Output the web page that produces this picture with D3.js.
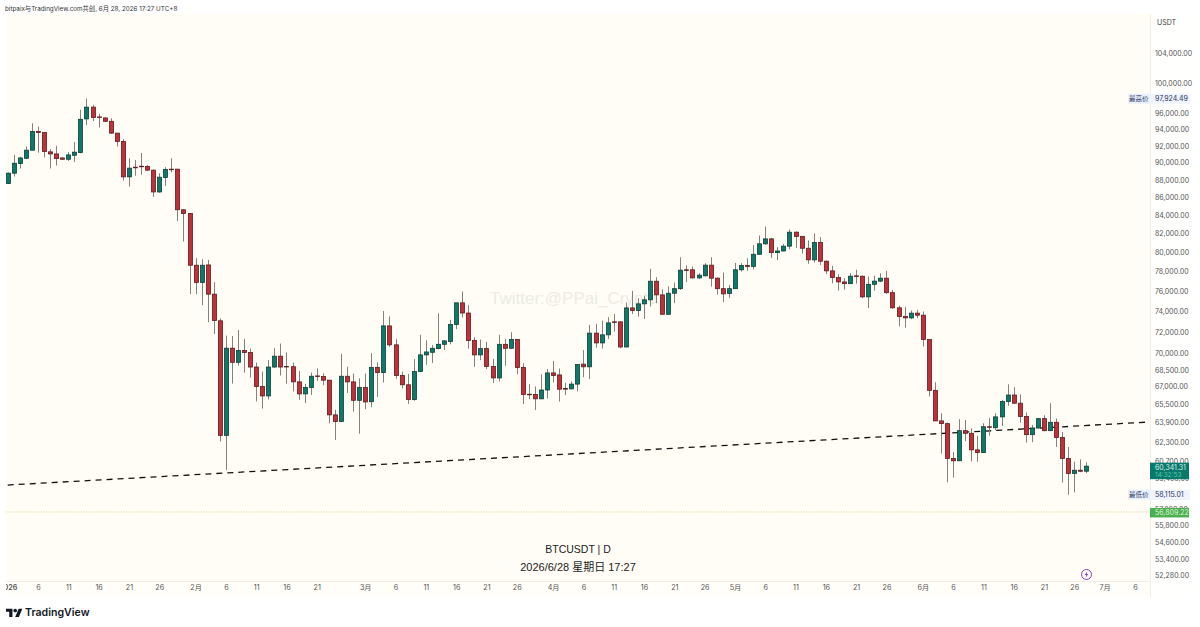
<!DOCTYPE html>
<html>
<head>
<meta charset="utf-8">
<script src="https://cdnjs.cloudflare.com/ajax/libs/d3/7.8.5/d3.min.js"></script>
<style>
  html, body { margin: 0; padding: 0; background: #fff; }
  svg { display: block; }
  text { font-family: Inter, Roboto, "Noto Sans CJK SC", sans-serif; }
</style>
</head>
<body>
<div id="chart"></div>
<script>
// BTCUSDT daily candles, 1 Jan to 28 Jun 2026
const firstDay = Date.UTC(2026, 0, 1);

const opens = [
  87560,88770,89900,90530,91500,93780,93660,91300,91050,90570,
  90410,90890,91210,95350,96840,95600,95470,95050,93580,92560,
  88340,89470,89590,89550,89120,86600,88270,89240,89240,84590,
  84180,78630,76860,78660,75690,73080,62840,70490,69190,70270,
  70090,68760,67020,66190,68760,69750,68820,68790,67430,66370,
  66930,67960,67900,67580,64560,64000,67930,67430,65810,66930,
  65690,68730,68260,72590,70800,68000,67170,65880,68350,69870,
  70110,70450,70850,71110,72720,74830,73830,71200,69870,70450,
  68810,67780,70850,70480,71300,68720,66340,66320,65940,66710,
  68230,68050,66840,66810,67230,69020,68780,71900,70980,71740,
  72980,72980,70600,74330,74070,74730,75130,76990,75620,73710,
  75780,76240,78160,78160,77330,77540,78640,77300,76240,75750,
  76240,78160,78600,78500,79770,80880,81410,79950,80120,80630,
  82130,81670,80410,79190,81020,79050,78050,77370,76920,76750,
  77540,77500,75420,76680,77000,77300,75840,74340,73490,73360,
  73820,73620,71300,66680,64050,63820,60960,60770,63230,63010,
  61650,61430,63560,63480,64390,65700,66270,65560,64420,62900,
  63450,64240,63230,63930,62660,60960,59770,60020,59940
];
const highs = [
  88850,90930,90720,91950,94800,94390,93700,91620,92030,90640,
  91260,92480,96500,97924.49,97140,95990,95560,95430,93580,92840,
  90530,90330,91170,89750,89240,88770,89470,90530,89280,84660,
  84220,79370,79260,79190,76900,73300,71670,71630,72200,71360,
  70460,69160,68350,69410,70490,70920,70090,69160,68410,67250,
  68260,68640,68200,67610,64990,69970,68790,68170,67750,68170,
  70030,69190,74020,73500,71330,68350,68140,69480,71740,71230,
  70790,73800,71260,73170,74830,75950,74600,71520,71300,71070,
  69510,71740,71330,71990,71330,69110,67230,67020,68110,68570,
  69320,68630,67350,67470,68990,70310,72690,72790,73100,73420,
  73740,73010,74860,76020,75290,75520,78260,77400,76180,76470,
  76850,79460,78600,78500,77810,78840,79460,77400,77880,76610,
  78870,78840,79360,80730,81770,82740,81520,80520,80880,82420,
  82210,81740,81240,81990,81600,79120,78570,77710,77300,77810,
  78160,77570,77470,77540,77810,78050,76110,74530,74440,74080,
  74140,73980,71330,67400,64700,63900,61480,64190,64130,63420,
  62800,63850,64300,64700,65840,67220,66950,66330,64760,63700,
  64300,64530,65560,64250,63120,61890,60700,60880,60650
];
const lows = [
  87520,88380,89320,90490,91460,91210,90640,89320,89670,90370,
  90220,90100,91130,94590,95090,94270,94960,93490,91950,87910,
  87210,88460,88580,89080,86040,86520,87290,88850,83350,81130,
  75690,75690,74590,72950,71820,62330,60030,67280,68880,68260,
  67810,65720,65100,65890,68700,68000,67280,66580,65840,65570,
  66280,67520,67130,63850,62460,63940,66450,64840,62980,65040,
  65210,66100,67370,70610,67700,66840,65500,65770,68320,68960,
  69140,70390,70330,70850,72280,73390,70450,68780,69390,68570,
  67320,67470,68870,70420,68110,65500,65910,64980,65910,65970,
  67380,65710,66260,66780,66590,67840,67690,70540,70450,71360,
  72060,70480,70570,73740,73480,73250,74470,74800,73680,73680,
  74800,76110,76920,77260,77200,77470,76440,75650,74900,75320,
  76210,77980,78050,78190,79740,80770,79390,79150,80090,80300,
  80450,79840,78770,78910,78640,77710,76780,76050,76130,76680,
  76750,75290,74310,76040,76900,75710,74240,72550,72420,73230,
  73330,70650,66150,64040,61350,59080,59440,60750,62360,60720,
  60690,61430,62820,63290,63620,65330,65500,63900,62250,62280,
  63420,63180,63200,61890,59050,58115.01,58290,59860,59780
];
const closes = [
  88770,89940,90570,91500,93780,93660,91340,91050,90490,90410,
  90930,91260,95300,96840,95520,95560,95050,93580,92560,88340,
  89360,89440,89550,89120,86600,88300,89200,89200,84590,84180,
  78630,76860,78630,75690,73110,62840,70490,69190,70270,70090,
  68760,67020,66190,68760,69750,68760,68790,67430,66370,66930,
  67930,67930,67580,64560,64000,67930,67430,65810,66930,65670,
  68730,68260,72590,70800,68000,67170,65880,68350,69870,70140,
  70480,70850,71170,72720,74830,73830,71200,69870,70450,68810,
  67780,70850,70480,71300,68720,66320,66320,65940,66710,68230,
  67990,66780,66810,67230,68990,68780,71900,70980,71740,72880,
  72910,70600,74330,74070,74730,75130,76990,75620,73710,75780,
  76240,78120,78090,77330,77610,78640,77300,76240,75720,76240,
  78160,78600,78500,79770,80880,81410,79950,80120,80630,82130,
  81670,80410,79190,81020,79050,78050,77370,76920,76750,77500,
  77500,75420,76680,77000,77300,75840,74340,73490,73360,73820,
  73620,71300,66680,64050,63820,60960,60770,63230,63010,61650,
  61430,63560,63530,64390,65700,66270,65560,64420,62900,63450,
  64240,63230,63930,62660,60960,59770,60020,59940,60341.31
];

const priceTicks = [104000,100000,96000,94000,92000,90000,88000,86000,84000,82000,80000,
  78000,76000,74000,72000,70000,68500,67000,65500,63900,62300,60700,59400,57000,
  55800,54600,53400,52280];
const dayTicks = [
  [0,0,"2026"],[0,5,"6"],[0,10,"11"],[0,15,"16"],[0,20,"21"],[0,25,"26"],
  [1,0,"2月"],[1,5,"6"],[1,10,"11"],[1,15,"16"],[1,20,"21"],
  [2,0,"3月"],[2,5,"6"],[2,10,"11"],[2,15,"16"],[2,20,"21"],[2,25,"26"],
  [3,0,"4月"],[3,5,"6"],[3,10,"11"],[3,15,"16"],[3,20,"21"],[3,25,"26"],
  [4,0,"5月"],[4,5,"6"],[4,10,"11"],[4,15,"16"],[4,20,"21"],[4,25,"26"],
  [5,0,"6月"],[5,5,"6"],[5,10,"11"],[5,15,"16"],[5,20,"21"],[5,25,"26"],
  [6,0,"7月"],[6,5,"6"]
];

const highestPrice = 97924.49;
const lowestPrice = 58115.01;
const lastPrice = 60341.31;
const countdown = "14:32:53";
const alertPrice = 56809.22;
const trendFrom = [0, 58860];
const trendTo = [188.5, 63960];

const DAY = 86400000;
const dateOf = i => new Date(firstDay + i * DAY);

const W = 1200, H = 627;
const plotL = 6, plotR = 1150, plotT = 14, plotB = 581, stripB = 597, axisR = 1192;

const svg = d3.select("#chart").append("svg").attr("width", W).attr("height", H);

const x = d3.scaleUtc().domain([dateOf(0), dateOf(178)]).range([7.7, 1086.4]);
const y = d3.scaleLog().domain([52280, 104000]).range([575, 53]);

// Backgrounds
svg.append("rect").attr("x", plotL).attr("y", plotT).attr("width", plotR - plotL).attr("height", plotB - plotT).attr("fill", "#fffdf6");
svg.append("rect").attr("x", plotL).attr("y", plotB).attr("width", plotR - plotL).attr("height", stripB - plotB).attr("fill", "#fffef9");
svg.append("rect").attr("x", plotR).attr("y", plotT).attr("width", axisR - plotR).attr("height", stripB - plotT).attr("fill", "#fffffd");
svg.append("line").attr("x1", plotL).attr("x2", plotR).attr("y1", plotB + .5).attr("y2", plotB + .5).attr("stroke", "#eeeee8");
svg.append("line").attr("x1", plotR + .5).attr("x2", plotR + .5).attr("y1", plotT).attr("y2", stripB).attr("stroke", "#eeeee8");

svg.append("defs").append("clipPath").attr("id", "plot-clip")
  .append("rect").attr("x", plotL).attr("y", plotT).attr("width", plotR - plotL).attr("height", plotB - plotT);
svg.select("defs").append("clipPath").attr("id", "strip-clip")
  .append("rect").attr("x", plotL).attr("y", plotB).attr("width", plotR - plotL).attr("height", stripB - plotB);

// Attribution line
svg.append("text").attr("x", 5).attr("y", 10.5).attr("font-size", 6.3).attr("fill", "#333")
  .text("bitpaix与TradingView.com共创, 6月 28, 2026 17:27 UTC+8");

// Watermark
svg.append("text").attr("x", 490).attr("y", 304).attr("font-size", 17)
  .attr("fill", "#ecebe4").style("font-family", "'Liberation Sans', sans-serif")
  .text("Twitter:@PPai_Crypto");

// Symbol caption
svg.append("text").attr("x", 578).attr("y", 553).attr("text-anchor", "middle")
  .attr("font-size", 10.5).attr("fill", "#222").style("font-family", "'Liberation Sans', sans-serif")
  .text("BTCUSDT | D");
svg.append("text").attr("x", 578).attr("y", 570.5).attr("text-anchor", "middle")
  .attr("font-size", 11).attr("fill", "#222").style("font-family", "'Liberation Sans', 'Noto Sans CJK SC', sans-serif")
  .text("2026/6/28 星期日 17:27");

const plot = svg.append("g").attr("clip-path", "url(#plot-clip)");

// Alert level
plot.append("line").attr("x1", plotL).attr("x2", plotR)
  .attr("y1", y(alertPrice)).attr("y2", y(alertPrice))
  .attr("stroke", "#c9d88f").attr("stroke-width", 1).attr("stroke-dasharray", "1 1.5");

// Hand-drawn trend line
plot.append("line")
  .attr("x1", x(dateOf(trendFrom[0]))).attr("y1", y(trendFrom[1]))
  .attr("x2", x(dateOf(trendTo[0]))).attr("y2", y(trendTo[1]))
  .attr("stroke", "#111").attr("stroke-width", 1.3).attr("stroke-dasharray", "6 5");

// Candles
const candleDays = d3.range(opens.length);
const UP = { fill: "#0b7a69", edge: "#0c3f38" };
const DOWN = { fill: "#c22f36", edge: "#5e1c20" };
const look = i => closes[i] >= opens[i] ? UP : DOWN;

plot.append("g").selectAll("line").data(candleDays).join("line")
  .attr("x1", i => Math.round(x(dateOf(i))) + .5).attr("x2", i => Math.round(x(dateOf(i))) + .5)
  .attr("y1", i => y(highs[i])).attr("y2", i => y(lows[i]))
  .attr("stroke", "#85817a").attr("stroke-width", 1);

plot.append("g").selectAll("rect").data(candleDays).join("rect")
  .attr("x", i => Math.round(x(dateOf(i))) - 1.5).attr("width", 4)
  .attr("y", i => y(Math.max(opens[i], closes[i])))
  .attr("height", i => Math.max(.6, y(Math.min(opens[i], closes[i])) - y(Math.max(opens[i], closes[i]))))
  .attr("fill", i => look(i).fill).attr("stroke", i => look(i).edge).attr("stroke-width", .8);

// Time axis
const timeAxis = d3.axisBottom(x)
  .tickValues(dayTicks.map(d => new Date(Date.UTC(2026, d[0], d[1] + 1))))
  .tickSize(0).tickPadding(0)
  .tickFormat((d, i) => dayTicks[i][2]);
const timeG = svg.append("g").attr("clip-path", "url(#strip-clip)")
  .append("g").attr("transform", "translate(0,585)").call(timeAxis);
timeG.select(".domain").remove();
timeG.selectAll("text").attr("font-size", 7.2).attr("fill", "#555").attr("dy", "0.71em")
  .style("font-weight", (d, i) => i === 0 ? 600 : 400);

// Price axis
const priceAxis = d3.axisRight(y).tickValues(priceTicks).tickSize(0).tickPadding(0)
  .tickFormat(d3.format(",.2f"));
const priceG = svg.append("g").attr("transform", "translate(1155,0)").call(priceAxis);
priceG.select(".domain").remove();
priceG.selectAll("text").attr("font-size", 7).attr("fill", "#555");

svg.append("text").attr("x", 1157).attr("y", 25).attr("font-size", 7).attr("fill", "#444").text("USDT");

// Session extreme tags
function extremeTag(label, price) {
  const cy = y(price);
  const g = svg.append("g");
  g.append("rect").attr("x", 1128).attr("y", cy - 5).attr("width", 62).attr("height", 10).attr("fill", "#e9effb");
  g.append("rect").attr("x", 1150).attr("y", cy - 5).attr("width", 40).attr("height", 10).attr("fill", "#f0f4fc");
  g.append("text").attr("x", 1129).attr("y", cy + 2.4).attr("font-size", 6.5).attr("fill", "#2a3560").text(label);
  g.append("text").attr("x", 1155).attr("y", cy + 2.5).attr("font-size", 7).attr("fill", "#2a3560").text(d3.format(",.2f")(price));
}
extremeTag("最高价", highestPrice);
extremeTag("最低价", lowestPrice);

// Last price box with bar countdown
const lastY = y(lastPrice);
svg.append("rect").attr("x", 1150).attr("y", lastY - 3.5).attr("width", 39).attr("height", 16.5).attr("fill", "#08796a");
svg.append("text").attr("x", 1155).attr("y", lastY + 3.5).attr("font-size", 7).attr("fill", "#d6f0ea").text(d3.format(",.2f")(lastPrice));
svg.append("text").attr("x", 1155).attr("y", lastY + 11).attr("font-size", 6.5).attr("fill", "#5fc7b0").text(countdown);

// Alert price box
const alertY = y(alertPrice);
svg.append("rect").attr("x", 1150).attr("y", alertY - 4).attr("width", 39).attr("height", 9.5).attr("fill", "#4caf50");
svg.append("text").attr("x", 1155).attr("y", alertY + 3.2).attr("font-size", 7).attr("fill", "#dff3d8").text(d3.format(",.2f")(alertPrice));

// Lightning badge
const badge = svg.append("g").attr("transform", "translate(1086.5,574.5)");
badge.append("circle").attr("r", 5).attr("fill", "#fffdf6").attr("stroke", "#7e3fc0").attr("stroke-width", 1);
badge.append("path").attr("d", "M0.8,-3 L-1.8,0.4 L-0.2,0.4 L-0.8,3 L1.8,-0.5 L0.2,-0.5 Z").attr("fill", "#7e3fc0");

// TradingView wordmark
const mark = svg.append("g").attr("transform", "translate(6,606.8) scale(0.46)");
mark.append("path").attr("d", "M14 22H7V11H0V4h14v18zM28 22h-8l7.5-18h8L28 22z").attr("fill", "#131722");
mark.append("circle").attr("cx", 20).attr("cy", 8).attr("r", 4).attr("fill", "#131722");
svg.append("text").attr("x", 25).attr("y", 616).attr("font-size", 10.6).attr("font-weight", 600).attr("fill", "#131722").text("TradingView");
</script>
</body>
</html>
